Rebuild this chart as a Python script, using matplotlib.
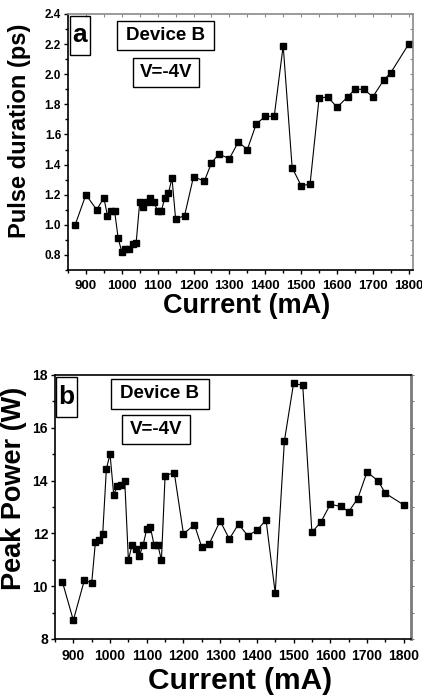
import matplotlib
matplotlib.use("Agg")
import matplotlib.pyplot as plt
from matplotlib.patches import Rectangle
from matplotlib.ticker import MultipleLocator

plt.rcParams["font.family"] = ["Liberation Sans", "DejaVu Sans"]
plt.rcParams["font.weight"] = "bold"

# Drive current (mA), shared by both panels
current = [870, 900, 930, 950, 960, 970, 980, 990, 1000, 1010, 1020, 1030, 1040,
           1050, 1060, 1070, 1080, 1090, 1100, 1110, 1120, 1130, 1140, 1150, 1175,
           1200, 1230, 1250, 1270, 1300, 1325, 1350, 1375, 1400, 1425, 1450, 1475,
           1500, 1525, 1550, 1575, 1600, 1630, 1650, 1675, 1700, 1730, 1750, 1800]

# Panel a: pulse duration (ps)
pulse_duration = [1.00, 1.20, 1.10, 1.18, 1.06, 1.09, 1.09, 0.91, 0.82, 0.84, 0.84,
                  0.87, 0.88, 1.15, 1.12, 1.15, 1.18, 1.15, 1.09, 1.09, 1.18, 1.21,
                  1.31, 1.04, 1.06, 1.32, 1.29, 1.41, 1.47, 1.44, 1.55, 1.50, 1.67,
                  1.72, 1.72, 2.19, 1.38, 1.26, 1.27, 1.84, 1.85, 1.78, 1.85, 1.90,
                  1.90, 1.85, 1.96, 2.01, 2.20]

# Panel b: peak power (W)
peak_power = [10.17, 8.71, 10.23, 10.12, 11.66, 11.74, 11.98, 14.45, 15.00, 13.46,
              13.81, 13.82, 14.00, 10.99, 11.56, 11.41, 11.16, 11.55, 12.17, 12.23,
              11.56, 11.57, 10.99, 14.19, 14.30, 11.98, 12.33, 11.47, 11.60, 12.47,
              11.79, 12.35, 11.92, 12.11, 12.51, 9.74, 15.50, 17.68, 17.61, 12.04,
              12.44, 13.10, 13.02, 12.82, 13.32, 14.32, 14.00, 13.52, 13.08]

W, H = 422, 700
fig = plt.figure(figsize=(W / 100, H / 100), dpi=100)


def px_axes(left, top, right, bottom):
    return fig.add_axes([left / W, 1 - bottom / H, (right - left) / W, (bottom - top) / H])


def boxed_label(text, cx, cy, bw, bh, size):
    fig.patches.append(Rectangle(((cx - bw / 2) / W, 1 - (cy + bh / 2) / H), bw / W, bh / H,
                                 transform=fig.transFigure, fill=False,
                                 edgecolor="black", linewidth=1.0))
    fig.text(cx / W, 1 - cy / H, text, ha="center", va="center",
             fontsize=size, fontweight="bold")


def style_axes(ax, xtick_size, ytick_size, ymajor, yminor, mirror_color):
    ax.xaxis.set_major_locator(MultipleLocator(100))
    ax.xaxis.set_minor_locator(MultipleLocator(50))
    ax.yaxis.set_major_locator(MultipleLocator(ymajor))
    ax.yaxis.set_minor_locator(MultipleLocator(yminor))
    ax.tick_params(which="major", direction="out", length=3, width=1.0)
    ax.tick_params(which="minor", direction="out", length=2.5, width=1.0)
    ax.tick_params(axis="x", labelsize=xtick_size, pad=4)
    ax.tick_params(axis="y", labelsize=ytick_size, pad=2)
    for side in ("left", "bottom"):
        ax.spines[side].set_linewidth(1.2)
    for side in ("top", "right"):
        ax.spines[side].set_color(mirror_color)
        ax.spines[side].set_linewidth(1.2)


# ---- Panel a ----
ax1 = px_axes(68, 14, 413, 270)
ax1.plot(current, pulse_duration, color="black", lw=0.8, marker="s",
         markersize=4.2, markerfacecolor="black", markeredgecolor="black")
ax1.set_xlim(850, 1812)
ax1.set_ylim(0.7, 2.4)
style_axes(ax1, 9.5, 8.5, 0.2, 0.1, "#8a8a8a")
ax1.set_yticks([0.8, 1.0, 1.2, 1.4, 1.6, 1.8, 2.0, 2.2, 2.4])
ax1.set_yticklabels(["0.8", "1.0", "1.2", "1.4", "1.6", "1.8", "2.0", "2.2", "2.4"],
                    fontweight="bold")
ax1.set_xticks(range(900, 1801, 100))
ax1.set_xticklabels([str(v) for v in range(900, 1801, 100)], fontweight="bold")
top1 = ax1.secondary_xaxis("top")
top1.xaxis.set_major_locator(MultipleLocator(50))
top1.tick_params(direction="in", length=2, color="#8a8a8a", labeltop=False)
top1.spines["top"].set_visible(False)
right1 = ax1.secondary_yaxis("right")
right1.yaxis.set_major_locator(MultipleLocator(0.1))
right1.tick_params(direction="in", length=2, color="#8a8a8a", labelright=False)
right1.spines["right"].set_visible(False)
ax1.set_ylabel("Pulse duration (ps)", fontsize=17, fontweight="bold")
ax1.yaxis.set_label_coords(-0.108, 0.543)
ax1.set_xlabel("Current (mA)", fontsize=19.5, fontweight="bold")
ax1.xaxis.set_label_coords(0.519, -0.088)

boxed_label("a", 80, 35.5, 20, 39, 19)
boxed_label("Device B", 165.5, 35.5, 97, 29, 13.5)
boxed_label("V=-4V", 166, 72.5, 66, 29, 13.5)

# ---- Panel b ----
ax2 = px_axes(55, 375, 411, 639)
ax2.plot(current, peak_power, color="black", lw=0.8, marker="s",
         markersize=4.2, markerfacecolor="black", markeredgecolor="black")
ax2.set_xlim(850, 1820)
ax2.set_ylim(8, 18)
style_axes(ax2, 10, 10, 2, 1, "#7a7a7a")
ax2.spines["top"].set_color("black")
ax2.spines["right"].set_linewidth(2.0)
ax2.set_xticks(range(900, 1801, 100))
ax2.set_xticklabels([str(v) for v in range(900, 1801, 100)], fontweight="bold")
ax2.set_yticks(range(8, 19, 2))
ax2.set_yticklabels([str(v) for v in range(8, 19, 2)], fontweight="bold")
right2 = ax2.secondary_yaxis("right")
right2.yaxis.set_major_locator(MultipleLocator(1))
right2.tick_params(direction="out", length=2, color="#7a7a7a", labelright=False)
right2.spines["right"].set_visible(False)
ax2.set_ylabel("Peak Power (W)", fontsize=19.5, fontweight="bold")
ax2.yaxis.set_label_coords(-0.078, 0.572)
ax2.set_xlabel("Current (mA)", fontsize=21.5, fontweight="bold")
ax2.xaxis.set_label_coords(0.52, -0.105)

boxed_label("b", 66.5, 397, 21, 40, 19)
boxed_label("Device B", 160, 394, 98, 30, 13.5)
boxed_label("V=-4V", 156, 429.5, 68, 29, 13.5)

fig.savefig("out.png", dpi=100)
